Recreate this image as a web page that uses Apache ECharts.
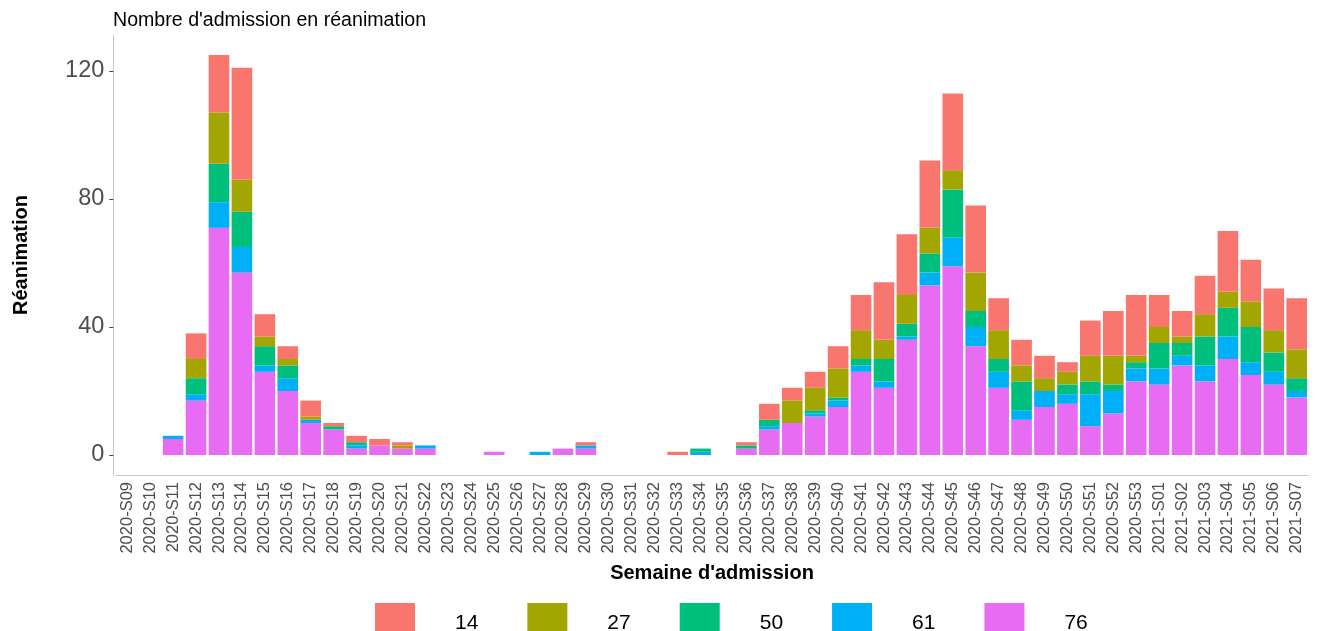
<!DOCTYPE html>
<html>
<head>
<meta charset="utf-8">
<script src="https://cdn.jsdelivr.net/npm/echarts@6/dist/echarts.min.js"></script>
<style>
  html, body { margin: 0; padding: 0; background: #fff; }
  #chart { width: 1320px; height: 631px; }
</style>
</head>
<body>
<div id="chart"></div>
<script>
const weeks = [
  '2020-S09', '2020-S10', '2020-S11', '2020-S12', '2020-S13', '2020-S14', '2020-S15',
  '2020-S16', '2020-S17', '2020-S18', '2020-S19', '2020-S20', '2020-S21', '2020-S22',
  '2020-S23', '2020-S24', '2020-S25', '2020-S26', '2020-S27', '2020-S28', '2020-S29',
  '2020-S30', '2020-S31', '2020-S32', '2020-S33', '2020-S34', '2020-S35', '2020-S36',
  '2020-S37', '2020-S38', '2020-S39', '2020-S40', '2020-S41', '2020-S42', '2020-S43',
  '2020-S44', '2020-S45', '2020-S46', '2020-S47', '2020-S48', '2020-S49', '2020-S50',
  '2020-S51', '2020-S52', '2020-S53', '2021-S01', '2021-S02', '2021-S03', '2021-S04',
  '2021-S05', '2021-S06', '2021-S07'
];

// admissions per department (stacked bottom to top: 76, 61, 50, 27, 14)
const dep76 = [0, 0, 5, 17, 71, 57, 26, 20, 10, 8, 2, 3, 2, 2,
  0, 0, 1, 0, 0, 2, 2, 0, 0, 0, 0, 0, 0,
  2, 8, 10, 12, 15, 26, 21, 36, 53, 59, 34, 21, 11, 15, 16, 9, 13, 23, 22, 28, 23, 30, 25, 22, 18];
const dep61 = [0, 0, 1, 2, 8, 8, 2, 4, 1, 0, 1, 0, 0, 1,
  0, 0, 0, 0, 1, 0, 1, 0, 0, 0, 0, 1, 0,
  0, 1, 0, 1, 2, 2, 2, 1, 4, 9, 6, 5, 3, 5, 3, 10, 7, 4, 5, 3, 5, 7, 4, 4, 2];
const dep50 = [0, 0, 0, 5, 12, 11, 6, 4, 0, 1, 1, 0, 0, 0,
  0, 0, 0, 0, 0, 0, 0, 0, 0, 0, 0, 1, 0,
  1, 2, 0, 1, 1, 2, 7, 4, 6, 15, 5, 4, 9, 0, 3, 4, 2, 2, 8, 4, 9, 9, 11, 6, 4];
const dep27 = [0, 0, 0, 6, 16, 10, 3, 2, 1, 0, 0, 0, 1, 0,
  0, 0, 0, 0, 0, 0, 0, 0, 0, 0, 0, 0, 0,
  0, 0, 7, 7, 9, 9, 6, 9, 8, 6, 12, 9, 5, 4, 4, 8, 9, 2, 5, 2, 7, 5, 8, 7, 9];
const dep14 = [0, 0, 0, 8, 18, 35, 7, 4, 5, 1, 2, 2, 1, 0,
  0, 0, 0, 0, 0, 0, 1, 0, 0, 0, 1, 0, 0,
  1, 5, 4, 5, 7, 11, 18, 19, 21, 24, 21, 10, 8, 7, 3, 11, 14, 19, 10, 8, 12, 19, 13, 13, 16];

const yTicks = [0, 40, 80, 120];

const chart = echarts.init(document.getElementById('chart'));

const mkSeries = (name, data, color) => ({
  name: name,
  type: 'bar',
  stack: 'total',
  data: data,
  barCategoryGap: '10%',
  itemStyle: { color: color },
  emphasis: { disabled: true }
});

const font = 'Liberation Sans, Arial, sans-serif';

chart.setOption({
  animation: false,
  textStyle: { fontFamily: font },
  title: {
    text: "Nombre d'admission en réanimation",
    left: 113,
    top: 11,
    padding: 0,
    textStyle: { fontSize: 19.6, fontWeight: 'normal', color: '#000', fontFamily: font }
  },
  legend: {
    data: ['14', '27', '50', '61', '76'],
    left: 375,
    top: 603,
    padding: 0,
    icon: 'rect',
    itemWidth: 40,
    itemHeight: 40,
    itemGap: 49,
    textStyle: { fontSize: 21, color: '#000', padding: [0, 0, 0, 35], fontFamily: font }
  },
  grid: {
    left: 115.8,
    right: 11.8,
    top: 35,
    bottom: 631 - 475
  },
  xAxis: {
    type: 'category',
    data: weeks,
    name: "Semaine d'admission",
    nameLocation: 'middle',
    nameGap: 88,
    nameTextStyle: { fontSize: 20, fontWeight: 'bold', color: '#000', fontFamily: font },
    axisLine: { onZero: false, lineStyle: { color: '#c8c8c8', width: 1 } },
    axisTick: { alignWithLabel: true, interval: 0, length: 4, lineStyle: { color: '#444' } },
    axisLabel: { interval: 0, rotate: 90, fontSize: 16.5, color: '#4d4d4d', margin: 7, fontFamily: font }
  },
  yAxis: {
    type: 'value',
    min: -6.25,
    max: 131.25,
    offset: 2.5,
    name: 'Réanimation',
    nameLocation: 'middle',
    nameGap: 82,
    nameRotate: 90,
    nameTextStyle: { fontSize: 20, fontWeight: 'bold', color: '#000', fontFamily: font },
    axisLine: { show: true, lineStyle: { color: '#c8c8c8', width: 1 } },
    axisTick: { show: true, length: 4, customValues: yTicks, lineStyle: { color: '#444' } },
    splitLine: { show: false },
    axisLabel: {
      fontSize: 23.5, color: '#4d4d4d', margin: 9, fontFamily: font,
      customValues: yTicks
    }
  },
  series: [
    mkSeries('76', dep76, '#E76BF3'),
    mkSeries('61', dep61, '#00B0F6'),
    mkSeries('50', dep50, '#00BF7D'),
    mkSeries('27', dep27, '#A3A500'),
    mkSeries('14', dep14, '#F8766D')
  ]
});
</script>
</body>
</html>
